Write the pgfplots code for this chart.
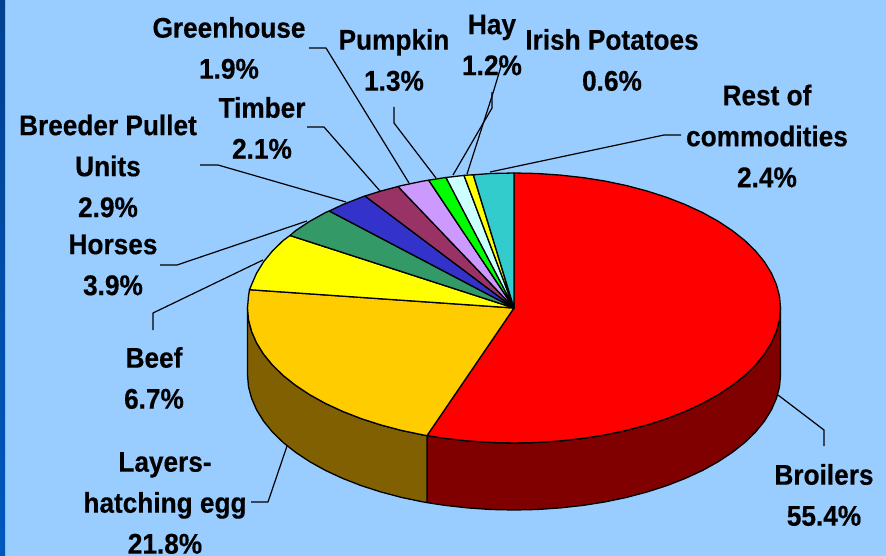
\documentclass[border=0pt]{standalone}
\usepackage{pgfplots}
\pgfplotsset{compat=1.18}
\usepackage{fontspec}
\setmainfont{Liberation Sans}[BoldFeatures={FakeStretch=0.92,FakeBold=0.4}]
\definecolor{fons}{HTML}{99CCFF}
\definecolor{stripa}{HTML}{004090}
\definecolor{stripb}{HTML}{0058BE}
\definecolor{broilers}{HTML}{FF0000}
\definecolor{broilersd}{HTML}{800000}
\definecolor{layers}{HTML}{FFCC00}
\definecolor{layersd}{HTML}{806000}
\definecolor{beef}{HTML}{FFFF00}
\definecolor{horses}{HTML}{339966}
\definecolor{breeder}{HTML}{3333CC}
\definecolor{timber}{HTML}{993366}
\definecolor{greenh}{HTML}{CC99FF}
\definecolor{pumpkin}{HTML}{00FF00}
\definecolor{hay}{HTML}{CCFFFF}
\definecolor{irish}{HTML}{FFFF00}
\definecolor{rest}{HTML}{33CCCC}
\tikzset{
  lab/.style={font=\fontsize{28.5}{41}\bfseries\selectfont,align=center,text=black,inner sep=0pt},
  lead/.style={black,line width=1.2pt}}

\begin{document}
\begin{tikzpicture}
\path[use as bounding box] (0,0) rectangle (886pt,556pt);
\begin{axis}[
  at={(0,0)},anchor=south west,
  width=886pt,height=556pt,scale only axis,
  xmin=0,xmax=886,ymin=0,ymax=556,y dir=reverse,
  hide axis,clip=false,
  every axis plot/.append style={line join=round,line width=1.3pt}]

  % background and left strip
  \addplot[fill=fons,draw=none] coordinates {(0,0) (886,0) (886,556) (0,556)} --cycle;
  \path[top color=stripa,bottom color=stripb] (axis cs:0,0) rectangle (axis cs:5,556);

  % sides
  \addplot[fill=broilersd,draw=black] coordinates {
    (780.5,308) (779.5,319.8) (776.4,331.4) (771.4,342.9) (764.4,354.2) (755.5,365.1) (744.8,375.5) (732.3,385.4)
    (718.1,394.8) (702.4,403.5) (685.3,411.4) (666.9,418.6) (647.3,424.9) (626.6,430.4) (605.1,434.9) (583,438.4)
    (560.3,440.9) (537.2,442.5) (514,443) (490.8,442.5) (467.7,440.9) (445,438.4) (427,435.6)
    (427,502.6) (445,505.4) (467.7,507.9) (490.8,509.5) (514,510) (537.2,509.5) (560.3,507.9) (583,505.4)
    (605.1,501.9) (626.6,497.4) (647.3,491.9) (666.9,485.6) (685.3,478.4) (702.4,470.5) (718.1,461.8) (732.3,452.4)
    (744.8,442.5) (755.5,432.1) (764.4,421.2) (771.4,409.9) (776.4,398.4) (779.5,386.8) (780.5,375)} --cycle;
  \addplot[fill=layersd,draw=black] coordinates {
    (427,435.6) (422.9,434.9) (401.4,430.4) (380.7,424.9) (361.1,418.6) (342.7,411.4) (325.6,403.5) (309.9,394.8)
    (295.7,385.4) (283.2,375.5) (272.5,365.1) (263.6,354.2) (256.6,342.9) (251.6,331.4) (248.5,319.8) (247.5,308)
    (247.5,375) (248.5,386.8) (251.6,398.4) (256.6,409.9) (263.6,421.2) (272.5,432.1) (283.2,442.5) (295.7,452.4)
    (309.9,461.8) (325.6,470.5) (342.7,478.4) (361.1,485.6) (380.7,491.9) (401.4,497.4) (422.9,501.9) (427,502.6)} --cycle;

  % top slices
  \addplot[fill=broilers,draw=black] coordinates {
    (514,308) (514,173) (537.2,173.5) (560.3,175.1) (583,177.6) (605.1,181.1) (626.6,185.6) (647.3,191.1) (666.9,197.4)
    (685.3,204.6) (702.4,212.5) (718.1,221.2) (732.3,230.6) (744.8,240.5) (755.5,250.9) (764.4,261.8) (771.4,273.1)
    (776.4,284.6) (779.5,296.2) (780.5,308) (779.5,319.8) (776.4,331.4) (771.4,342.9) (764.4,354.2) (755.5,365.1)
    (744.8,375.5) (732.3,385.4) (718.1,394.8) (702.4,403.5) (685.3,411.4) (666.9,418.6) (647.3,424.9) (626.6,430.4)
    (605.1,434.9) (583,438.4) (560.3,440.9) (537.2,442.5) (514,443) (490.8,442.5) (467.7,440.9) (445,438.4) (427,435.6)} --cycle;
  \addplot[fill=layers,draw=black] coordinates {
    (514,308) (427,435.6) (422.9,434.9) (401.4,430.4) (380.7,424.9) (361.1,418.6) (342.7,411.4) (325.6,403.5) (309.9,394.8)
    (295.7,385.4) (283.2,375.5) (272.5,365.1) (263.6,354.2) (256.6,342.9) (251.6,331.4) (248.5,319.8) (247.5,308)
    (248.5,296.2) (249.5,289.7)} --cycle;
  \addplot[fill=beef,draw=black] coordinates {
    (514,308) (249.5,289.7) (251.6,284.6) (256.6,273.1) (263.6,261.8) (272.5,250.9) (283.2,240.5) (290,235.5)} --cycle;
  \addplot[fill=horses,draw=black] coordinates {
    (514,308) (290,235.5) (295.7,230.6) (309.9,221.2) (325.6,212.5) (329.3,211)} --cycle;
  \addplot[fill=breeder,draw=black] coordinates {
    (514,308) (329.3,211) (342.7,204.6) (361.1,197.4) (365,196)} --cycle;
  \addplot[fill=timber,draw=black] coordinates {
    (514,308) (365,196) (380.7,191.1) (398,186.5)} --cycle;
  \addplot[fill=greenh,draw=black] coordinates {
    (514,308) (398,186.5) (401.4,185.6) (422.9,181.1) (428.7,180.2)} --cycle;
  \addplot[fill=pumpkin,draw=black] coordinates {
    (514,308) (428.7,180.2) (445,177.6) (446,177.5)} --cycle;
  \addplot[fill=hay,draw=black] coordinates {
    (514,308) (446,177.5) (464,175.4)} --cycle;
  \addplot[fill=irish,draw=black] coordinates {
    (514,308) (464,175.4) (467.7,175.1) (473.3,174.8)} --cycle;
  \addplot[fill=rest,draw=black] coordinates {
    (514,308) (473.3,174.8) (490.8,173.5) (514,173)} --cycle;

  % labels
  \node[lab] at (axis cs:229,48) {Greenhouse\\1.9\%};
  \node[lab] at (axis cs:394,60) {Pumpkin\\1.3\%};
  \node[lab] at (axis cs:492,45) {Hay\\1.2\%};
  \node[lab] at (axis cs:612,60) {Irish Potatoes\\0.6\%};
  \node[lab] at (axis cs:767,136) {Rest of\\commodities\\2.4\%};
  \node[lab] at (axis cs:262,128) {Timber\\2.1\%};
  \node[lab] at (axis cs:108,166) {Breeder Pullet\\Units\\2.9\%};
  \node[lab] at (axis cs:113,265) {Horses\\3.9\%};
  \node[lab] at (axis cs:154,378) {Beef\\6.7\%};
  \node[lab] at (axis cs:165,503) {Layers-\\hatching egg\\21.8\%};
  \node[lab] at (axis cs:824,495) {Broilers\\55.4\%};

  % leader lines
  \addplot[lead] coordinates {(309,48) (326,48) (409,183)};
  \addplot[lead] coordinates {(394,107) (394,123) (436,178)};
  \addplot[lead] coordinates {(307,127) (324,127) (380,191)};
  \addplot[lead] coordinates {(200,165) (218,165) (346,202)};
  \addplot[lead] coordinates {(160,265) (177,265) (307,221)};
  \addplot[lead] coordinates {(153,330) (153,313) (263,260)};
  \addplot[lead] coordinates {(251,502) (268,502) (287,446)};
  \addplot[lead] coordinates {(824,446) (824,430) (778,395)};
  \addplot[lead] coordinates {(453,175) (492,108) (492,92)};
  \addplot[lead] coordinates {(467,174) (493,93) (502,63)};
  \addplot[lead] coordinates {(490,172) (664,135) (681,135)};
\end{axis}
\end{tikzpicture}
\end{document}
